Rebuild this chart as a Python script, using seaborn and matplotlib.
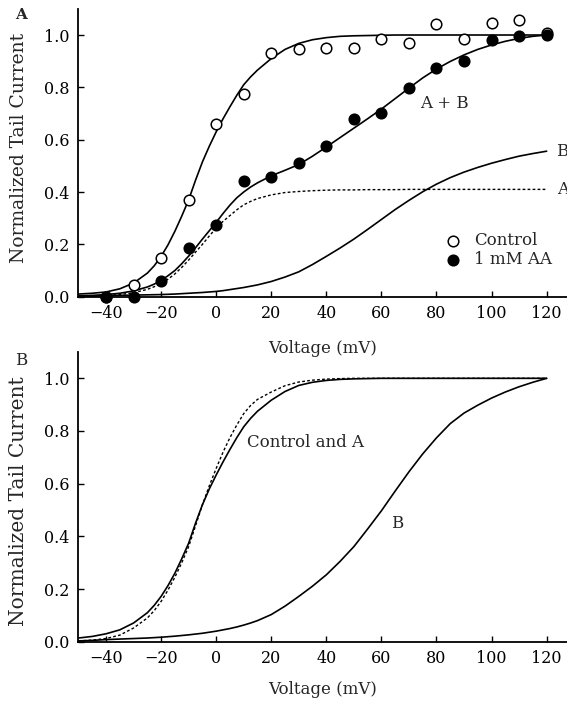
import matplotlib
matplotlib.use("Agg")
import matplotlib.pyplot as plt
import seaborn as sns

# measured points, panel A
volts = [-40, -30, -20, -10, 0, 10, 20, 30, 40, 50, 60, 70, 80, 90, 100, 110, 120]
control = [0.00, 0.046, 0.148, 0.370, 0.660, 0.774, 0.930, 0.945, 0.949, 0.949,
           0.985, 0.971, 1.042, 0.985, 1.047, 1.057, 1.006]
aa_1mm = [0.00, 0.00, 0.058, 0.186, 0.272, 0.443, 0.459, 0.510, 0.576, 0.678,
          0.701, 0.796, 0.873, 0.901, 0.981, 0.996, 1.000]

# fitted curves (finer steps where they are steep)
curve_v = [-50, -45, -40, -35, -30, -25, -22.5, -20, -17.5, -15, -12.5, -10, -7.5, -5,
           -2.5, 0, 2.5, 5, 7.5, 10, 12.5, 15, 20, 25, 30, 35, 40, 45, 50, 55, 60,
           65, 70, 75, 80, 85, 90, 95, 100, 105, 110, 115, 120]

ctrl_fit_a = [0.010, 0.013, 0.018, 0.030, 0.052, 0.090, 0.118, 0.154, 0.198, 0.250,
              0.308, 0.370, 0.445, 0.515, 0.575, 0.630, 0.680, 0.726, 0.770, 0.810,
              0.840, 0.866, 0.910, 0.945, 0.968, 0.982, 0.990, 0.995, 0.997, 0.998,
              0.999, 1.0, 1.0, 1.0, 1.0, 1.0, 1.0, 1.0, 1.0, 1.0, 1.0, 1.0, 1.0]
ab_fit_a = [0.003, 0.005, 0.008, 0.013, 0.022, 0.037, 0.048, 0.062, 0.080, 0.100,
            0.126, 0.155, 0.187, 0.220, 0.252, 0.284, 0.318, 0.350, 0.378, 0.400,
            0.419, 0.435, 0.462, 0.483, 0.505, 0.537, 0.572, 0.608, 0.644, 0.680,
            0.717, 0.757, 0.797, 0.836, 0.870, 0.899, 0.924, 0.945, 0.962, 0.976,
            0.987, 0.995, 1.000]
a_fit_a = [0.001, 0.002, 0.004, 0.008, 0.015, 0.028, 0.038, 0.050, 0.067, 0.087,
           0.112, 0.140, 0.170, 0.200, 0.232, 0.262, 0.288, 0.310, 0.332, 0.351,
           0.364, 0.375, 0.389, 0.398, 0.402, 0.405, 0.407, 0.408, 0.408, 0.409,
           0.409, 0.409, 0.410, 0.410, 0.410, 0.410, 0.410, 0.410, 0.410, 0.410,
           0.410, 0.410, 0.410]
b_fit_a = [0.000, 0.002, 0.004, 0.005, 0.006, 0.007, 0.0075, 0.008, 0.009, 0.010,
           0.0115, 0.013, 0.0145, 0.016, 0.018, 0.020, 0.023, 0.027, 0.031, 0.035,
           0.040, 0.045, 0.058, 0.075, 0.095, 0.123, 0.154, 0.186, 0.220, 0.257,
           0.295, 0.333, 0.368, 0.401, 0.430, 0.455, 0.476, 0.494, 0.510, 0.524,
           0.537, 0.547, 0.556]

# panel B, normalized curves
ctrl_fit_b = [0.014, 0.020, 0.030, 0.045, 0.071, 0.110, 0.138, 0.172, 0.213, 0.260,
              0.315, 0.374, 0.450, 0.520, 0.580, 0.633, 0.683, 0.730, 0.775, 0.816,
              0.848, 0.875, 0.917, 0.950, 0.973, 0.985, 0.992, 0.996, 0.998, 0.999,
              1.0, 1.0, 1.0, 1.0, 1.0, 1.0, 1.0, 1.0, 1.0, 1.0, 1.0, 1.0, 1.0]
a_fit_b = [0.003, 0.006, 0.012, 0.025, 0.052, 0.090, 0.118, 0.153, 0.196, 0.245,
           0.300, 0.361, 0.440, 0.520, 0.592, 0.658, 0.720, 0.775, 0.823, 0.866,
           0.897, 0.920, 0.948, 0.972, 0.986, 0.993, 0.997, 0.999, 1.0, 1.0,
           1.0, 1.0, 1.0, 1.0, 1.0, 1.0, 1.0, 1.0, 1.0, 1.0, 1.0, 1.0, 1.0]
b_fit_b = [0.003, 0.005, 0.008, 0.010, 0.012, 0.014, 0.0155, 0.017, 0.019, 0.021,
           0.0235, 0.026, 0.029, 0.032, 0.036, 0.040, 0.045, 0.050, 0.056, 0.063,
           0.071, 0.080, 0.103, 0.135, 0.172, 0.211, 0.254, 0.305, 0.361, 0.428,
           0.497, 0.572, 0.645, 0.713, 0.774, 0.828, 0.868, 0.898, 0.925, 0.948,
           0.968, 0.985, 1.000]

sns.set_style("ticks")
plt.rcParams['font.family'] = ['DejaVu Serif']
plt.rcParams['font.size'] = 12

fig = plt.figure(figsize=(5.67, 7.02), dpi=100)
ax_a = fig.add_axes([0.137, 0.5774, 0.863, 0.410])
ax_b = fig.add_axes([0.137, 0.0859, 0.863, 0.4127])
# keep panel B's background from hiding panel A's x label
ax_b.set_facecolor('none')

dash = (0, (2.0, 1.6))
fs = 12

# panel A
sns.lineplot(x=curve_v, y=ctrl_fit_a, ax=ax_a, color='black', lw=1.2)
sns.lineplot(x=curve_v, y=ab_fit_a, ax=ax_a, color='black', lw=1.2)
sns.lineplot(x=curve_v, y=b_fit_a, ax=ax_a, color='black', lw=1.2)
sns.lineplot(x=curve_v, y=a_fit_a, ax=ax_a, color='black', lw=1.0, linestyle=dash)
sns.scatterplot(x=volts, y=control, ax=ax_a, marker='o', s=58, color='white',
                edgecolor='black', linewidth=1.1, label='Control', zorder=3, clip_on=False)
sns.scatterplot(x=volts, y=aa_1mm, ax=ax_a, marker='o', s=58, color='black',
                edgecolor='black', linewidth=1.1, label='1 mM AA', zorder=4, clip_on=False)
ax_a.legend(loc='upper left', bbox_to_anchor=(0.751, 0.225), frameon=False,
            handletextpad=0.72, labelspacing=0.14, borderpad=0, borderaxespad=0,
            handlelength=1.0, fontsize=fs)
ax_a.text(74, 0.74, 'A + B', fontsize=fs, va='center')
ax_a.text(123.6, 0.553, 'B', fontsize=fs, va='center', clip_on=False)
ax_a.text(123.9, 0.408, 'A', fontsize=fs, va='center', clip_on=False)

# panel B
sns.lineplot(x=curve_v, y=ctrl_fit_b, ax=ax_b, color='black', lw=1.2)
sns.lineplot(x=curve_v, y=a_fit_b, ax=ax_b, color='black', lw=1.0, linestyle=dash)
sns.lineplot(x=curve_v, y=b_fit_b, ax=ax_b, color='black', lw=1.2)
ax_b.text(11.2, 0.758, 'Control and A', fontsize=fs, va='center')
ax_b.text(63.5, 0.45, 'B', fontsize=fs, va='center')

for ax, pad in ((ax_a, 13), (ax_b, 10)):
    ax.set_xlim(-50.3, 127.4)
    ax.set_ylim(0, 1.1)
    ax.set_xticks([-40, -20, 0, 20, 40, 60, 80, 100, 120])
    ax.set_xticklabels(['\u221240', '\u221220', '0', '20', '40', '60', '80', '100', '120'])
    ax.set_yticks([0.0, 0.2, 0.4, 0.6, 0.8, 1.0])
    ax.set_yticklabels(['0.0', '0.2', '0.4', '0.6', '0.8', '1.0'])
    ax.tick_params(direction='in', length=4, width=1, labelsize=11.5, pad=6, colors='black')
    ax.set_xlabel('Voltage (mV)', fontsize=fs, labelpad=pad)
    sns.despine(ax=ax)
    for s in ('left', 'bottom'):
        ax.spines[s].set_linewidth(1.3)
        ax.spines[s].set_color('black')

ax_a.set_ylabel('Normalized Tail Current', fontsize=13.5)
ax_b.set_ylabel('Normalized Tail Current', fontsize=14.5)
ax_a.yaxis.set_label_coords(-0.102, 0.516)
ax_b.yaxis.set_label_coords(-0.102, 0.486)

fig.text(0.026, 0.978, 'A', fontsize=11, fontweight='bold', va='center')
fig.text(0.026, 0.487, 'B', fontsize=12, va='center')

fig.savefig('out.png', dpi=100)
